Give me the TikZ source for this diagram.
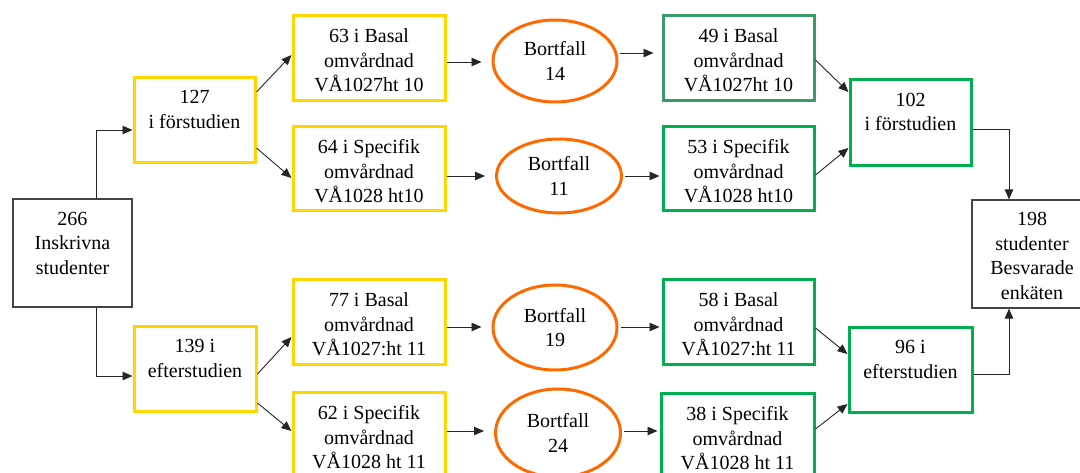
\documentclass[tikz,border=0pt]{standalone}
\usepackage{fontspec}
\setmainfont{Liberation Serif}
\usetikzlibrary{shapes.geometric,arrows.meta}

\definecolor{boxyellow}{HTML}{FFD700}
\definecolor{boxgreen}{HTML}{00B050}
\definecolor{boxseagreen}{HTML}{3A9A6A}
\definecolor{dropout}{HTML}{FF6A00}
\definecolor{framegray}{HTML}{444444}

% an extra (possibly shortened) last line, to move a node's text up
\newcommand\tailskip[1]{\\[#1]\strut}
% a taller first line, to move a node's text down
\newcommand\headroom[1]{\rule{0pt}{#1}}

\tikzset{
  txt/.style={font=\fontsize{20}{24.5}\selectfont, align=center, text=black, inner sep=0pt},
  frame/.style={txt, rectangle, line width=1.2pt, draw=framegray, minimum width=119pt, minimum height=108pt},
  ybox/.style={txt, rectangle, line width=3pt, draw=boxyellow, minimum width=152pt, minimum height=85pt},
  gbox/.style={txt, rectangle, line width=3pt, draw=boxgreen, minimum width=151pt, minimum height=85pt},
  sgbox/.style={gbox, draw=boxseagreen},
  oval/.style={txt, ellipse, line width=3pt, draw=dropout, minimum width=124pt, minimum height=82pt},
  arr/.style={draw=black!85, line width=0.9pt, -{Triangle[length=10pt,width=8.5pt]}},
}

\begin{document}
\begin{tikzpicture}[x=1pt,y=-1pt]
\useasboundingbox (0,0) rectangle (1080,472);

% start and end
\node[frame] (s266) at (72.5,253) {266\\Inskrivna\\studenter\tailskip{-12pt}};
\node[frame, minimum width=120pt] (s198) at (1032,254) {\headroom{17pt}198\\studenter\\Besvarade\\enkäten};

% the two study groups
\node[ybox, minimum width=121pt] (f127) at (194.5,119.5) {127\\i förstudien\tailskip{-12pt}};
\node[ybox, minimum width=122pt] (e139) at (195,368.5) {139 i\\efterstudien\tailskip{-12pt}};

% courses at the start
\node[ybox] (b63) at (369,57.5) {\headroom{20pt}63 i Basal\\omvårdnad\\VÅ1027ht 10};
\node[ybox, minimum height=84pt] (s64) at (369,168.5) {\headroom{20pt}64 i Specifik\\omvårdnad\\VÅ1028 ht10};
\node[ybox] (b77) at (369,321.5) {\headroom{20pt}77 i Basal\\omvårdnad\\VÅ1027:ht 11};
\node[ybox] (s62) at (369,434.5) {\headroom{20pt}62 i Specifik\\omvårdnad\\VÅ1028 ht 11};

% dropouts
\node[oval] (d14) at (555,61) {Bortfall\\14};
\node[oval, minimum width=125pt, minimum height=74pt] (d11) at (559,176) {Bortfall\\11};
\node[oval, minimum height=85pt] (d19) at (555,327.5) {Bortfall\\19};
\node[oval, minimum width=125pt, minimum height=88pt] (d24) at (558,433) {Bortfall\\24};

% courses that answered
\node[sgbox] (b49) at (738.5,57.5) {\headroom{20pt}49 i Basal\\omvårdnad\\VÅ1027ht 10};
\node[gbox, minimum height=84pt] (s53) at (738.5,168.5) {\headroom{20pt}53 i Specifik\\omvårdnad\\VÅ1028 ht10};
\node[gbox] (b58) at (738.5,321.5) {\headroom{20pt}58 i Basal\\omvårdnad\\VÅ1027:ht 11};
\node[gbox, minimum width=153pt] (s38) at (737.5,435.5) {\headroom{20pt}38 i Specifik\\omvårdnad\\VÅ1028 ht 11};

% merged groups
\node[gbox, minimum width=121pt, minimum height=86pt] (g102) at (910.5,122) {102\\i förstudien\tailskip{-12pt}};
\node[gbox, minimum width=123pt] (g96) at (910.5,369.5) {96 i\\efterstudien\tailskip{-12pt}};

% elbow bends
\coordinate (k1) at (96,130);
\coordinate (k2) at (96,376);
\coordinate (k3) at (1009,129);
\coordinate (k4) at (1009,374);

% split into study groups
\draw[arr] (k1 |- s266.north) -- (k1) -- (k1 -| f127.west);
\draw[arr] (k2 |- s266.south) -- (k2) -- (k2 -| e139.west);

% study groups to courses
\draw[arr] (f127.east |- 0,92) -- (b63.west |- 0,55);
\draw[arr] (f127.east |- 0,148) -- (s64.west |- 0,178);
\draw[arr] (e139.east |- 0,374) -- (b77.west |- 0,337);
\draw[arr] (e139.east |- 0,403) -- (s62.west |- 0,431);

% courses to dropouts
\draw[arr, shorten >=10pt] (b63.east |- 0,62) -- (d14.west |- 0,62);
\draw[arr, shorten >=10pt] (s64.east |- 0,176) -- (d11.west |- 0,176);
\draw[arr, shorten >=10pt] (b77.east |- 0,327) -- (d19.west |- 0,327);
\draw[arr, shorten >=10pt] (s62.east |- 0,431) -- (d24.west |- 0,431);

% dropouts to answering courses
\draw[arr, shorten >=8pt, shorten <=1pt] (d14.east |- 0,53) -- (b49.west |- 0,53);
\draw[arr, shorten >=2pt, shorten <=2pt] (d11.east |- 0,176) -- (s53.west |- 0,176);
\draw[arr, shorten >=2pt, shorten <=2pt] (d19.east |- 0,327) -- (b58.west |- 0,327);
\draw[arr, shorten >=2pt, shorten <=2pt] (d24.east |- 0,431) -- (s38.west |- 0,431);

% answering courses to merged groups
\draw[arr] (b49.east |- 0,60) -- (g102.west |- 0,92);
\draw[arr] (s53.east |- 0,175) -- (g102.west |- 0,148);
\draw[arr] (b58.east |- 0,328) -- (g96.west |- 0,354);
\draw[arr] (s38.east |- 0,429) -- (g96.west |- 0,404);

% merged groups to the total
\draw[arr] (g102.east |- k3) -- (k3) -- (k3 |- s198.north);
\draw[arr] (g96.east |- k4) -- (k4) -- (k4 |- s198.south);
\end{tikzpicture}
\end{document}
